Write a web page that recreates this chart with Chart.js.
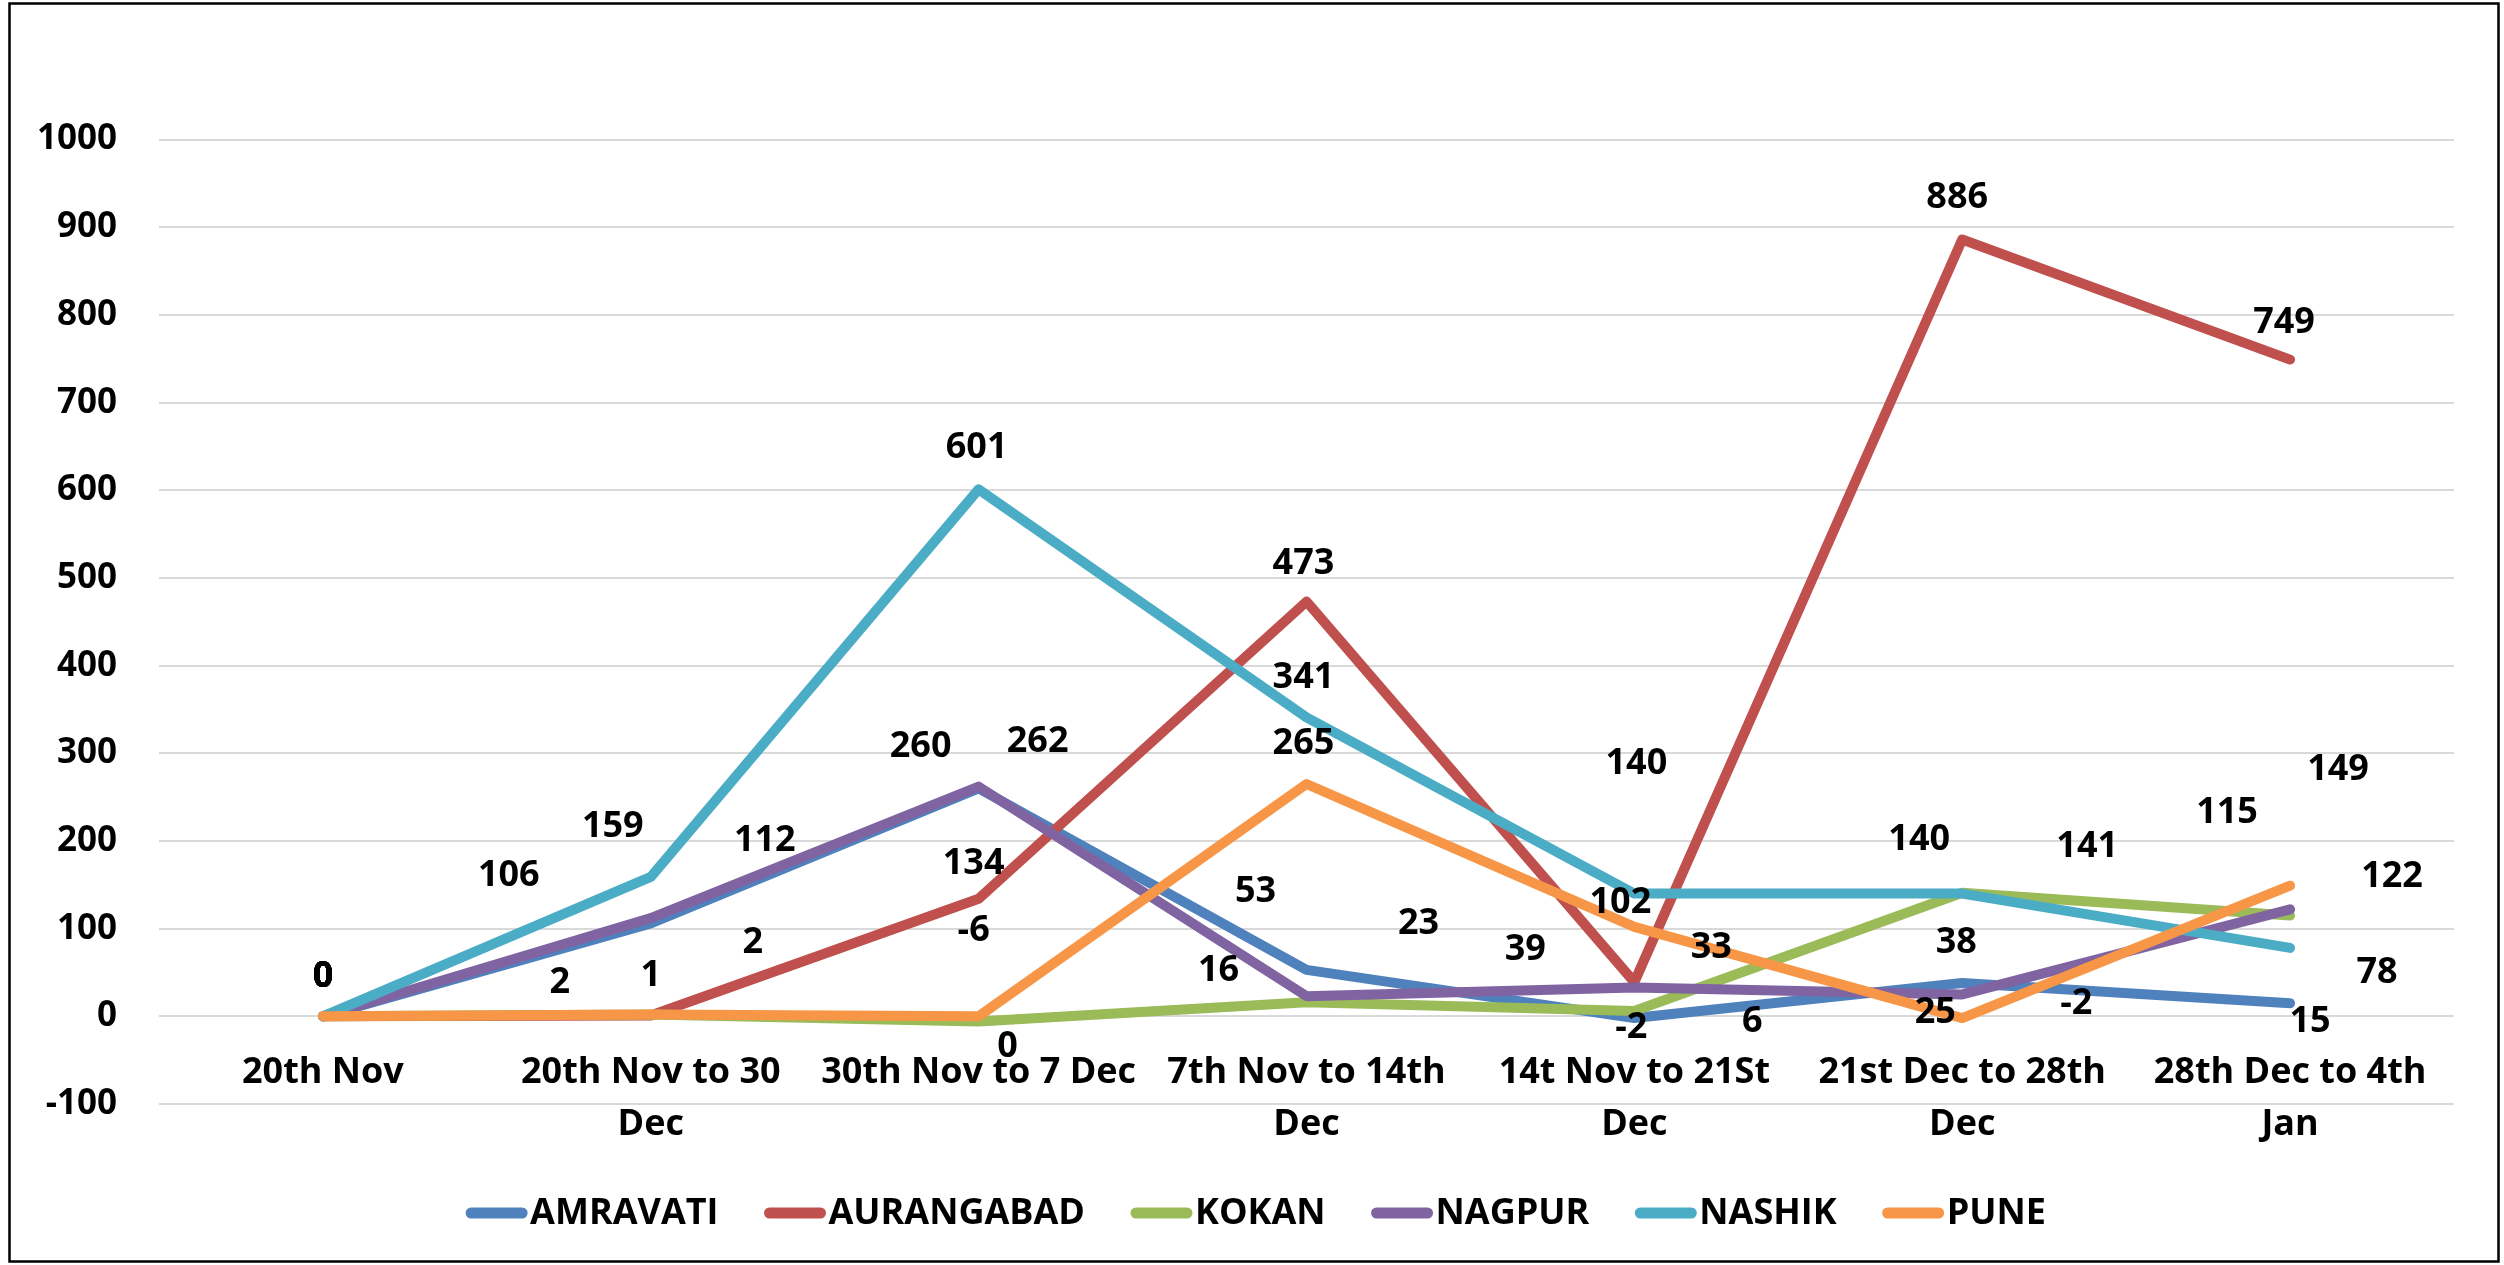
<!DOCTYPE html>
<html>
<head>
<meta charset="utf-8">
<script src="https://cdn.jsdelivr.net/npm/chart.js@4/dist/chart.umd.min.js"></script>
<style>
html,body{margin:0;padding:0;background:#fff;overflow:hidden;}
#wrap{position:absolute;left:0;top:0;width:2504px;height:1265px;}
</style>
</head>
<body>
<div id="wrap"><canvas id="c" width="2504" height="1265"></canvas></div>
<script>
// ---- data ----
const categories = [
  ["20th Nov"],
  ["20th Nov to 30", "Dec"],
  ["30th Nov to 7 Dec"],
  ["7th Nov to 14th", "Dec"],
  ["14t Nov to 21St", "Dec"],
  ["21st Dec to 28th", "Dec"],
  ["28th Dec to 4th", "Jan"]
];
const seriesNames = ["AMRAVATI", "AURANGABAD", "KOKAN", "NAGPUR", "NASHIK", "PUNE"];
const amravati   = [0, 106, 260, 53, -2, 38, 15];
const aurangabad = [0, 1, 134, 473, 39, 886, 749];
const kokan      = [0, 2, -6, 16, 6, 141, 115];
const nagpur     = [0, 112, 262, 23, 33, 25, 122];
const nashik     = [0, 159, 601, 341, 140, 140, 78];
const pune       = [0, 2, 0, 265, 102, -2, 149];
const yMin = -100, yMax = 1000, yStep = 100;

// ---- styling ----
const colors = ["#4F81BD", "#C0504D", "#9BBB59", "#8064A2", "#4BACC6", "#F79646"];
const seriesValues = [amravati, aurangabad, kokan, nagpur, nashik, pune];
// data-label offsets (px) relative to each point, per series
const labelOffsets = [
  [[0,-40],[-142,-48],[-58,-42],[-51,-78],[-3,10],[-6,-40],[20,19]],
  [[0,-40],[0,-40],[-5,-35],[-3,-38],[-109,-32],[-5,-42],[-6,-37]],
  [[0,-40],[-91,-32],[-5,-91],[-88,-32],[118,11],[125,-46],[-63,-103]],
  [[0,-40],[114,-77],[59,-45],[112,-72],[77,-40],[-27,18],[102,-33]],
  [[0,-40],[-38,-50],[-2,-42],[-3,-40],[2,-130],[-43,-54],[87,25]],
  [[0,-40],[102,-72],[29,30],[-3,-40],[-14,-24],[114,-14],[48,-116]]
];
const FONT = "'Open Sans', 'DejaVu Sans', sans-serif";

const frameAndLabels = {
  id: 'frameAndLabels',
  beforeDraw(chart) {
    const ctx = chart.ctx;
    ctx.save();
    ctx.fillStyle = '#fff';
    ctx.fillRect(0, 0, chart.width, chart.height);
    ctx.restore();
  },
  afterDatasetsDraw(chart) {
    const ctx = chart.ctx;
    ctx.save();
    ctx.font = "bold 36px " + FONT;
    ctx.fillStyle = '#000';
    ctx.textAlign = 'center';
    ctx.textBaseline = 'middle';
    chart.data.datasets.forEach((ds, i) => {
      const meta = chart.getDatasetMeta(i);
      meta.data.forEach((pt, j) => {
        const off = labelOffsets[i][j];
        ctx.fillText(String(ds.data[j]), pt.x + off[0], pt.y + off[1]);
      });
    });
    ctx.restore();
  },
  afterDraw(chart) {
    const ctx = chart.ctx;
    ctx.save();
    // legend
    ctx.font = "bold 36px " + FONT;
    ctx.textBaseline = 'middle';
    ctx.textAlign = 'left';
    const sw = 61, sgap = 3, igap = 46, ly = 1213;
    const widths = seriesNames.map(n => ctx.measureText(n).width);
    let total = 0;
    widths.forEach((w, i) => { total += sw + sgap + w + (i < widths.length - 1 ? igap : 0); });
    let x = 1256 - total / 2;
    seriesNames.forEach((n, i) => {
      ctx.strokeStyle = colors[i];
      ctx.lineWidth = 11;
      ctx.lineCap = 'round';
      ctx.beginPath();
      ctx.moveTo(x + 5, ly);
      ctx.lineTo(x + sw - 5, ly);
      ctx.stroke();
      ctx.fillStyle = '#000';
      ctx.fillText(n, x + sw + sgap, ly + 1);
      x += sw + sgap + widths[i] + igap;
    });
    // frame
    ctx.strokeStyle = '#000';
    ctx.lineWidth = 2.5;
    ctx.strokeRect(9.5, 3.5, 2489, 1258);
    ctx.restore();
  }
};

const datasets = seriesNames.map((n, i) => ({
  label: n,
  data: seriesValues[i],
  borderColor: colors[i],
  backgroundColor: colors[i],
  borderWidth: 10,
  borderCapStyle: 'round',
  borderJoinStyle: 'round',
  pointRadius: 0,
  pointHoverRadius: 0,
  tension: 0,
  fill: false,
  order: seriesNames.length - i
}));

new Chart(document.getElementById('c'), {
  type: 'line',
  data: { labels: categories, datasets },
  options: {
    responsive: false,
    animation: false,
    devicePixelRatio: 1,
    layout: { padding: { left: 12, right: 50, top: 139.5, bottom: 161 } },
    plugins: { legend: { display: false }, tooltip: { enabled: false } },
    scales: {
      x: {
        type: 'category',
        axis: 'x',
        position: { y: 0 },
        offset: true,
        grid: { display: false, drawTicks: false },
        border: { display: false },
        ticks: {
          color: '#000',
          font: { family: FONT, weight: 'bold', size: 36, lineHeight: 1.45 },
          padding: 30,
          maxRotation: 0,
          autoSkip: false
        }
      },
      y: {
        type: 'linear',
        position: 'left',
        min: yMin,
        max: yMax,
        ticks: {
          stepSize: yStep,
          color: '#000',
          font: { family: FONT, weight: 'bold', size: 35 },
          padding: 42,
          callback: (v) => String(v)
        },
        grid: { color: '#D9D9D9', lineWidth: 2, drawTicks: false },
        border: { display: false },
        afterFit(s) { s.width = 147; }
      }
    }
  },
  plugins: [frameAndLabels]
});
</script>
</body>
</html>
